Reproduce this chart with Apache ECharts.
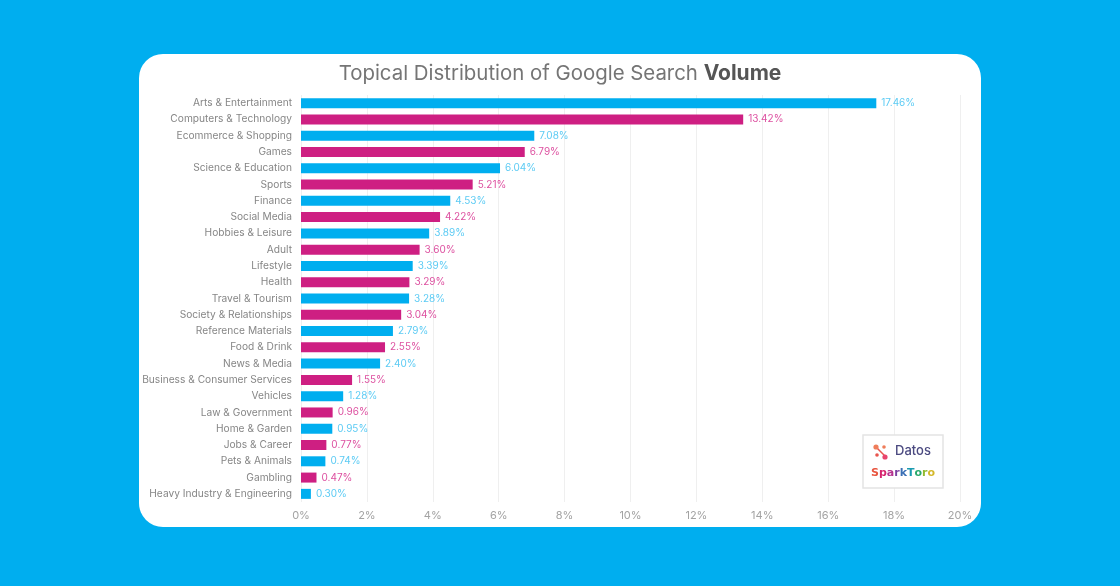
<!DOCTYPE html>
<html>
<head>
<meta charset="utf-8">
<title>Topical Distribution of Google Search Volume</title>
<script src="https://cdn.jsdelivr.net/npm/echarts@6/dist/echarts.min.js"></script>
<style>
  html, body { margin: 0; padding: 0; background: #00aeef; }
  #card { position: absolute; left: 139px; top: 54px; width: 842px; height: 473px; background: #fff; border-radius: 24px; }
  #main { position: absolute; left: 0; top: 0; width: 1120px; height: 586px; }
</style>
</head>
<body>
<div id="card"></div>
<div id="main"></div>
<script>
const categories = [
  "Arts & Entertainment", "Computers & Technology", "Ecommerce & Shopping", "Games",
  "Science & Education", "Sports", "Finance", "Social Media", "Hobbies & Leisure",
  "Adult", "Lifestyle", "Health", "Travel & Tourism", "Society & Relationships",
  "Reference Materials", "Food & Drink", "News & Media", "Business & Consumer Services",
  "Vehicles", "Law & Government", "Home & Garden", "Jobs & Career", "Pets & Animals",
  "Gambling", "Heavy Industry & Engineering"
];
const shares = [
  17.46, 13.42, 7.08, 6.79, 6.04, 5.21, 4.53, 4.22, 3.89, 3.60, 3.39, 3.29, 3.28,
  3.04, 2.79, 2.55, 2.40, 1.55, 1.28, 0.96, 0.95, 0.77, 0.74, 0.47, 0.30
];
const rowColors = [
  "b", "p", "b", "p", "b", "p", "b", "p", "b", "p", "b", "p", "b",
  "p", "b", "p", "b", "p", "b", "p", "b", "p", "b", "p", "b"
];
const sparkLetters = ["S", "p", "a", "r", "k", "T", "o", "r", "o"];
const sparkColors = ["#e8553f", "#d6246e", "#b5338f", "#7b3fa0", "#3a6fb5", "#1a9bb0", "#2aa96b", "#8fba2e", "#d4b82a"];

const BLUE = "#00aeef", PINK = "#ce1f82";
const FONT = "Inter, 'Open Sans', sans-serif";

const chart = echarts.init(document.getElementById("main"));

const sparkRich = {};
sparkColors.forEach((c, i) => {
  sparkRich["c" + i] = { fill: c, fontSize: 11, fontWeight: 700, fontFamily: "'DejaVu Sans', sans-serif" };
});

chart.setOption({
  animation: false,
  title: {
    text: "{a|Topical Distribution of Google Search }{b|Volume}",
    left: 555, top: 58, textAlign: "center",
    textStyle: {
      fontWeight: "normal",
      rich: {
        a: { fontSize: 20.4, color: "#757575", fontWeight: 400, fontFamily: FONT },
        b: { fontSize: 21, color: "#555", fontWeight: 700, fontFamily: FONT }
      }
    }
  },
  grid: { left: 301, right: 160, top: 95, bottom: 84 },
  xAxis: {
    type: "value", min: 0, max: 20, interval: 2,
    axisLine: { show: false },
    axisTick: { show: false },
    splitLine: { lineStyle: { color: "#efefef", width: 1 } },
    axisLabel: { formatter: "{value}%", color: "#a3a3a3", fontSize: 11, fontFamily: FONT, margin: 8 }
  },
  yAxis: {
    type: "category", inverse: true, data: categories,
    axisLine: { show: false },
    axisTick: { show: false },
    axisLabel: { color: "#868686", fontSize: 10.2, fontFamily: FONT, margin: 9 }
  },
  series: [{
    type: "bar",
    barWidth: 10,
    data: shares.map((v, i) => ({
      value: v,
      itemStyle: { color: rowColors[i] === "b" ? BLUE : PINK },
      label: { color: rowColors[i] === "b" ? "#5ccbf4" : "#dd50a0" }
    })),
    label: {
      show: true, position: "right", distance: 5, fontSize: 10, fontFamily: FONT,
      formatter: (p) => p.value.toFixed(2) + "%"
    }
  }],
  graphic: [
    { type: "rect", shape: { x: 863, y: 435, width: 80, height: 53 }, style: { fill: "#fff", stroke: "#e4e4e4", lineWidth: 1.5 }, z: 10 },
    { type: "line", shape: { x1: 876, y1: 447, x2: 886, y2: 457 }, style: { stroke: "#e8554e", lineWidth: 1.5 }, z: 11 },
    { type: "circle", shape: { cx: 876, cy: 447, r: 2.6 }, style: { fill: "#ef7d5a" }, z: 12 },
    { type: "circle", shape: { cx: 884, cy: 447, r: 1.8 }, style: { fill: "#ef7d5a" }, z: 12 },
    { type: "circle", shape: { cx: 877, cy: 455, r: 1.8 }, style: { fill: "#e8554e" }, z: 12 },
    { type: "circle", shape: { cx: 885, cy: 457, r: 2.6 }, style: { fill: "#e8456e" }, z: 12 },
    { type: "text", x: 895, y: 445, style: { text: "Datos", fill: "#4b4a80", fontSize: 13, fontWeight: 500, fontFamily: FONT }, z: 11 },
    {
      type: "text", x: 871, y: 468,
      style: {
        text: sparkLetters.map((l, i) => "{c" + i + "|" + l + "}").join(""),
        rich: sparkRich
      },
      z: 11
    }
  ]
});
</script>
</body>
</html>
